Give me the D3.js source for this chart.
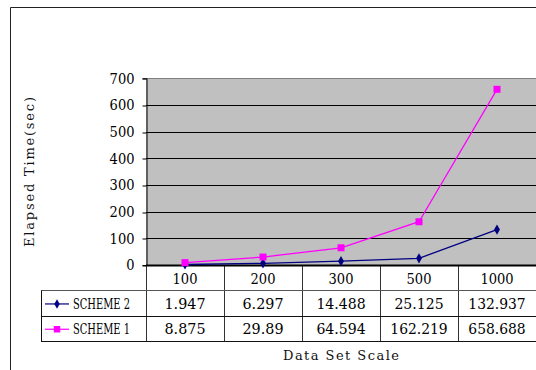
<!DOCTYPE html>
<html>
<head>
<meta charset="utf-8">
<script src="https://cdn.jsdelivr.net/npm/d3@7"></script>
<style>
  html, body { margin: 0; padding: 0; background: #fff; }
  svg { display: block; }
  .serif { font-family: "DejaVu Serif", serif; }
  .mono { font-family: "DejaVu Serif", serif; }
</style>
</head>
<body>
<svg id="chart" width="536" height="370"></svg>
<script>
// Data set scales and elapsed times (seconds)
const categories = ["100", "200", "300", "500", "1000"];
const scheme2 = [1.947, 6.297, 14.488, 25.125, 132.937];
const scheme1 = [8.875, 29.89, 64.594, 162.219, 658.688];
const yTicks = [0, 100, 200, 300, 400, 500, 600, 700];

const series = [
  { name: "SCHEME 2", values: scheme2, color: "#000080", shape: "diamond" },
  { name: "SCHEME 1", values: scheme1, color: "#FF00FF", shape: "square" }
];

const svg = d3.select("#chart");

const plot = { left: 146, right: 536, top: 78.3, bottom: 265 };
const rowH = 25.3;
const legendLeft = 41;

const x = d3.scaleBand().domain(categories).range([plot.left, plot.right]).padding(0);
const y = d3.scaleLinear().domain([0, 700]).range([plot.bottom, plot.top]);

// Outer chart frame
svg.append("path")
  .attr("d", `M10.5,370 V7.5 H536`)
  .attr("fill", "none").attr("stroke", "#222").attr("stroke-width", 1);

// Plot area
svg.append("rect")
  .attr("x", plot.left).attr("y", plot.top)
  .attr("width", plot.right - plot.left).attr("height", plot.bottom - plot.top)
  .attr("fill", "#C0C0C0");

// Gridlines
svg.append("g").selectAll("line")
  .data(yTicks.filter(d => d > 0 && d < 700))
  .join("line")
  .attr("x1", plot.left).attr("x2", plot.right)
  .attr("y1", d => Math.round(y(d)) + 0.5).attr("y2", d => Math.round(y(d)) + 0.5)
  .attr("stroke", "#000").attr("stroke-width", 1);

// Top border of the plot
svg.append("line")
  .attr("x1", plot.left).attr("x2", plot.right)
  .attr("y1", Math.round(plot.top) + 0.5).attr("y2", Math.round(plot.top) + 0.5)
  .attr("stroke", "#808080");

// Y axis
const yAxis = d3.axisLeft(y).tickValues(yTicks).tickSize(4).tickPadding(8)
  .tickFormat(d3.format("d"));
const yg = svg.append("g")
  .attr("transform", `translate(${plot.left + 0.5},0)`)
  .call(yAxis)
  .attr("font-family", null).attr("font-size", null);
yg.select(".domain").attr("stroke", "#000");
yg.selectAll(".tick line").attr("stroke", "#000")
  .attr("transform", d => `translate(0,${Math.round(y(d)) + 0.5 - y(d)})`);
yg.selectAll(".tick text")
  .attr("class", "serif").style("font-size", "14px").attr("fill", "#000")
  .attr("dy", "0.35em")
  .attr("textLength", d => String(d).length * 8.3).attr("lengthAdjust", "spacingAndGlyphs");

// Data table grid
const tableG = svg.append("g").attr("stroke", "#000").attr("stroke-width", 1);
const rowY = [plot.bottom, plot.bottom + rowH, plot.bottom + 2 * rowH, plot.bottom + 3 * rowH]
  .map(v => Math.round(v) + 0.5);
categories.forEach(c => {
  tableG.append("line")
    .attr("x1", Math.round(x(c)) + 0.5).attr("x2", Math.round(x(c)) + 0.5)
    .attr("y1", rowY[0]).attr("y2", rowY[3])
    .attr("stroke", "#333");
});
[1, 2, 3].forEach(i => {
  tableG.append("line")
    .attr("x1", legendLeft).attr("x2", plot.right)
    .attr("y1", rowY[i]).attr("y2", rowY[i])
    .attr("stroke", i === 1 ? "#555" : "#111");
});
tableG.append("line")
  .attr("x1", legendLeft + 0.5).attr("x2", legendLeft + 0.5)
  .attr("y1", rowY[1]).attr("y2", rowY[3]).attr("stroke", "#111");

// X axis line (bottom of plot)
svg.append("line")
  .attr("x1", plot.left).attr("x2", plot.right)
  .attr("y1", plot.bottom + 0.5).attr("y2", plot.bottom + 0.5)
  .attr("stroke", "#000").attr("stroke-width", 2);

// Category labels (header row)
svg.append("g").selectAll("text")
  .data(categories)
  .join("text")
  .attr("class", "serif")
  .attr("x", d => x(d) + x.bandwidth() / 2)
  .attr("y", plot.bottom + rowH / 2 + 1)
  .attr("text-anchor", "middle").attr("dy", "0.35em")
  .style("font-size", "14px")
  .attr("textLength", d => d.length * 8.3).attr("lengthAdjust", "spacingAndGlyphs")
  .text(d => d);

// Value rows with legend keys
series.forEach((s, i) => {
  const cy = plot.bottom + rowH * (i + 1) + rowH / 2 + 1;
  svg.append("g").selectAll("text")
    .data(s.values)
    .join("text")
    .attr("class", "serif")
    .attr("x", (d, j) => x(categories[j]) + x.bandwidth() / 2)
    .attr("y", cy)
    .attr("text-anchor", "middle").attr("dy", "0.35em")
    .style("font-size", "14px")
    .attr("textLength", d => String(d).length * 8.2)
    .attr("lengthAdjust", "spacingAndGlyphs")
    .text(d => String(d));
  const lg = svg.append("g").attr("transform", `translate(0,${cy})`);
  lg.append("line").attr("x1", 45).attr("x2", 69).attr("y1", 0).attr("y2", 0)
    .attr("stroke", s.color).attr("stroke-width", 1.2);
  const sym = d3.symbol().type(s.shape === "square" ? d3.symbolSquare : d3.symbolDiamond)
    .size(s.shape === "square" ? 42 : 26);
  lg.append("path").attr("d", sym()).attr("transform", "translate(57,0)").attr("fill", s.color);
  lg.append("text")
    .attr("class", "serif")
    .attr("x", 73).attr("y", 0).attr("dy", "0.35em")
    .style("font-size", "14px")
    .attr("textLength", 57).attr("lengthAdjust", "spacingAndGlyphs")
    .text(s.name);
});

// Series lines and markers
const line = d3.line()
  .x((d, j) => x(categories[j]) + x.bandwidth() / 2)
  .y(d => y(d));

series.forEach(s => {
  svg.append("path")
    .datum(s.values)
    .attr("d", line)
    .attr("fill", "none")
    .attr("stroke", s.color)
    .attr("stroke-width", 1.3);
  const sym = d3.symbol().type(s.shape === "square" ? d3.symbolSquare : d3.symbolDiamond)
    .size(s.shape === "square" ? 49 : 30);
  svg.append("g").selectAll("path")
    .data(s.values)
    .join("path")
    .attr("d", sym())
    .attr("transform", (d, j) => `translate(${x(categories[j]) + x.bandwidth() / 2},${y(d)})`)
    .attr("fill", s.color);
});

// Axis titles
svg.append("text")
  .attr("class", "mono")
  .attr("transform", "translate(29,172) rotate(-90)")
  .attr("text-anchor", "middle").attr("dy", "0.35em")
  .style("font-size", "13px")
  .attr("fill", "#111")
  .attr("textLength", 150).attr("lengthAdjust", "spacing")
  .text("Elapsed Time(sec)");

svg.append("text")
  .attr("class", "mono")
  .attr("x", 341).attr("y", 355)
  .attr("text-anchor", "middle").attr("dy", "0.35em")
  .style("font-size", "13px")
  .attr("fill", "#111")
  .attr("textLength", 116).attr("lengthAdjust", "spacing")
  .text("Data Set Scale");
</script>
</body>
</html>
